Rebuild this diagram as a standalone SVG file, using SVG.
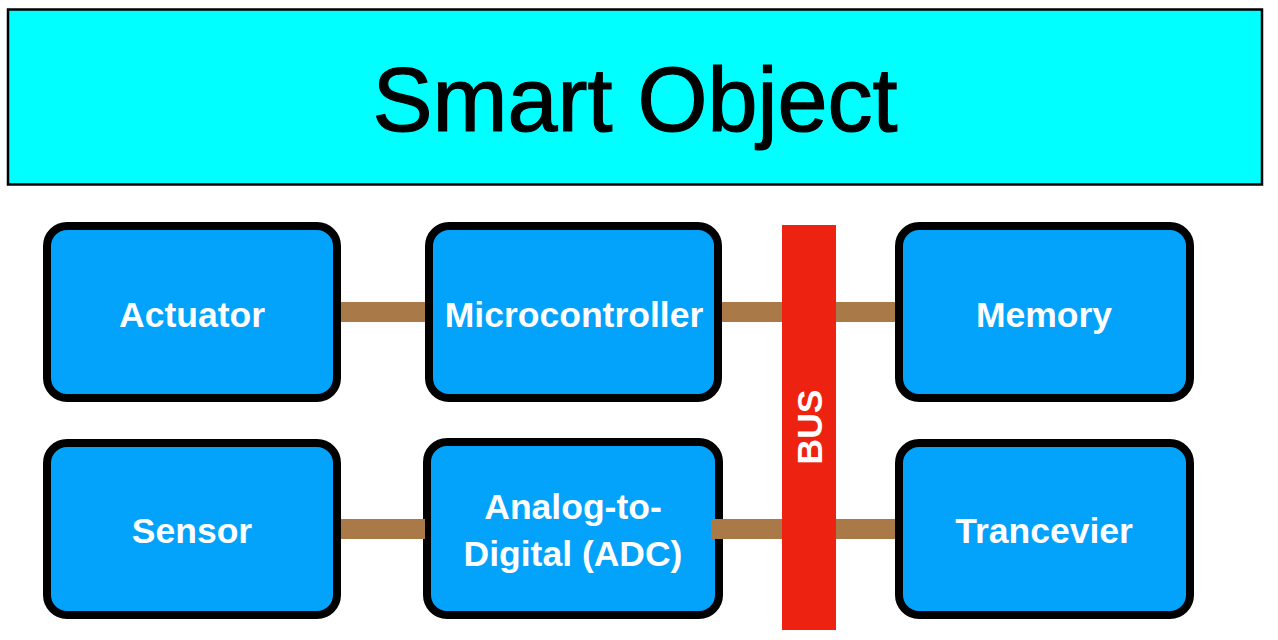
<svg xmlns="http://www.w3.org/2000/svg" width="1278" height="640" viewBox="0 0 1278 640">
  <style>
    .node rect { fill: #03A2FB; stroke: #000; stroke-width: 8; }
    .label { font-family: "Liberation Sans", Arial, Helvetica, sans-serif; font-weight: bold; font-size: 35.5px; fill: #fff; text-anchor: middle; }
    .wire { fill: #A97A47; }
    .title { font-family: "Liberation Sans", Arial, Helvetica, sans-serif; font-size: 90px; fill: #000; stroke: #000; stroke-width: 1.2; text-anchor: middle; }
  </style>
  <rect width="1278" height="640" fill="#fff"/>
  <g id="title-banner">
    <rect x="8" y="9.5" width="1254" height="175" fill="#00FFFF" stroke="#000" stroke-width="2.5"/>
    <text class="title" x="635" y="131">Smart Object</text>
  </g>
  <g id="actuator" class="node">
    <rect x="47" y="226" width="290" height="172" rx="20"/>
    <text class="label" x="192" y="327">Actuator</text>
  </g>
  <g id="microcontroller" class="node">
    <rect x="429" y="226" width="289" height="172" rx="20"/>
    <text class="label" x="574" y="327">Microcontroller</text>
  </g>
  <g id="memory" class="node">
    <rect x="899" y="226" width="291" height="172" rx="20"/>
    <text class="label" x="1044" y="327">Memory</text>
  </g>
  <g id="sensor" class="node">
    <rect x="47" y="443" width="290" height="172" rx="20"/>
    <text class="label" x="192" y="543">Sensor</text>
  </g>
  <g id="adc" class="node">
    <rect x="427" y="442" width="292" height="173" rx="20"/>
    <text class="label" x="573" y="519">Analog-to-</text>
    <text class="label" x="573" y="566">Digital (ADC)</text>
  </g>
  <g id="trancevier" class="node">
    <rect x="899" y="443" width="291" height="172" rx="20"/>
    <text class="label" x="1044" y="543">Trancevier</text>
  </g>
  <g id="connectors">
    <rect class="wire" x="341" y="302" width="84" height="20"/>
    <rect class="wire" x="722" y="302" width="173" height="20"/>
    <rect class="wire" x="341" y="519" width="84" height="20"/>
    <rect class="wire" x="711" y="519" width="184" height="20"/>
  </g>
  <g id="bus">
    <rect x="782" y="225" width="54" height="405" fill="#EE2211"/>
    <text class="label" transform="translate(822 427) rotate(-90)" x="0" y="0">BUS</text>
  </g>
</svg>
